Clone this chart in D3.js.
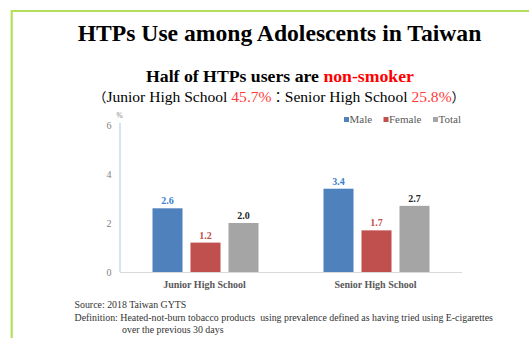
<!DOCTYPE html>
<html><head><meta charset="utf-8">
<script src="https://cdn.jsdelivr.net/npm/d3@7"></script>
<style>body{margin:0;background:#fff}svg{display:block}</style>
</head><body>
<script>
const categories = ["Junior High School", "Senior High School"];
const seriesNames = ["Male", "Female", "Total"];
const male = [2.6, 3.4];
const female = [1.2, 1.7];
const total = [2.0, 2.7];
const yTicks = [0, 2, 4, 6];

const series = [male, female, total];
const colors = ["#4f81bd", "#c0504d", "#a5a5a5"];
const labelColors = ["#3a7fd0", "#c0504d", "#262626"];
const SERIF = "'Liberation Serif', 'Times New Roman', Times, serif";
const CJK = "'Noto Sans CJK TC', 'Noto Sans CJK SC', sans-serif";

const W = 529, H = 338;
const svg = d3.select("body").append("svg").attr("width", W).attr("height", H)
  .attr("font-family", SERIF);

// fit a text element's font-size so that its width equals target
function fit(sel, base, target) {
  sel.attr("font-size", base);
  const w = sel.node().getComputedTextLength();
  const fs = base * target / w;
  sel.attr("font-size", fs);
  return fs;
}

// frame
svg.append("path").attr("d", "M11.7,338 V11 H529").attr("fill", "none")
  .attr("stroke", "#b3df5e").attr("stroke-width", 2.2);

// titles
const t1 = svg.append("text").attr("x", 279.5).attr("y", 41).attr("text-anchor", "middle")
  .attr("font-weight", "bold").attr("fill", "#000")
  .text("HTPs Use among Adolescents in Taiwan");
fit(t1, 23, 404);
const st = svg.append("text").attr("x", 280).attr("y", 82).attr("text-anchor", "middle")
  .attr("font-weight", "bold").attr("fill", "#000");
st.append("tspan").text("Half of HTPs users are ");
st.append("tspan").attr("fill", "#ff0000").text("non-smoker");
fit(st, 17.5, 268);
const t3 = svg.append("text").attr("x", 279).attr("y", 101.5).attr("text-anchor", "middle")
  .attr("fill", "#000");
t3.append("tspan").attr("font-family", CJK).attr("font-size", "0.85em").text("（");
t3.append("tspan").text("Junior High School ");
t3.append("tspan").attr("fill", "#ff3b3b").text("45.7%");
t3.append("tspan").attr("font-family", CJK).attr("font-size", "0.85em").text("：");
t3.append("tspan").text("Senior High School ");
t3.append("tspan").attr("fill", "#ff3b3b").text("25.8%");
t3.append("tspan").attr("font-family", CJK).attr("font-size", "0.85em").text("）");
fit(t3, 15, 372);

// scales
const x0 = d3.scaleBand().domain(categories).range([120, 462]).paddingInner(0).paddingOuter(0);
const x1 = d3.scaleBand().domain(seriesNames).range([0, 106]).paddingInner(0.21).paddingOuter(0);
const y = d3.scaleLinear().domain([0, 6]).range([272, 125]);

// y axis
svg.append("line").attr("x1", 120).attr("x2", 120).attr("y1", 123).attr("y2", y(0))
  .attr("stroke", "#c9daf0").attr("stroke-width", 1.5);
svg.append("g").selectAll("text").data(yTicks).join("text")
  .attr("x", 111.5).attr("y", d => y(d) + 3.5).attr("text-anchor", "end")
  .attr("font-size", 10).attr("fill", "#7f7f7f").text(d => d);
svg.append("text").attr("x", 116.5).attr("y", 118).attr("font-size", 7.5).attr("fill", "#7f7f7f").text("%");

// baseline
svg.append("line").attr("x1", 120).attr("x2", 462).attr("y1", 272.5).attr("y2", 272.5)
  .attr("stroke", "#d9d9d9").attr("stroke-width", 1);

// bars
const groups = svg.append("g").selectAll("g").data(categories).join("g")
  .attr("transform", d => `translate(${x0(d) + (x0.bandwidth() - 106) / 2},0)`);
groups.selectAll("rect").data((c, i) => seriesNames.map((s, k) => ({s, k, v: series[k][i]}))).join("rect")
  .attr("x", d => x1(d.s)).attr("width", x1.bandwidth())
  .attr("y", d => y(d.v)).attr("height", d => y(0) - y(d.v))
  .attr("fill", d => colors[d.k]);
groups.selectAll("text.val").data((c, i) => seriesNames.map((s, k) => ({s, k, v: series[k][i]}))).join("text")
  .attr("class", "val")
  .attr("x", d => x1(d.s) + x1.bandwidth() / 2).attr("y", d => y(d.v) - 4)
  .attr("text-anchor", "middle").attr("font-size", 10).attr("font-weight", "bold")
  .attr("fill", d => labelColors[d.k]).text(d => d.v.toFixed(1));

// category labels
svg.append("g").selectAll("text").data(categories).join("text")
  .attr("x", d => x0(d) + x0.bandwidth() / 2 - 1).attr("y", 287.5).attr("text-anchor", "middle")
  .attr("font-size", 10).attr("font-weight", "bold").attr("fill", "#595959").text(d => d);

// legend
const legX = [344, 383.5, 433];
const leg = svg.append("g").selectAll("g").data(seriesNames).join("g")
  .attr("transform", (d, i) => `translate(${legX[i]},119.5)`);
leg.append("rect").attr("x", 0).attr("y", -2.5).attr("width", 5).attr("height", 5)
  .attr("fill", (d, i) => colors[i]);
leg.append("text").attr("x", 5.5).attr("y", 3.8).attr("font-size", 11).attr("fill", "#595959").text(d => d);

// footer
const foot = [
  {x: 74.5, y: 308, t: "Source: 2018 Taiwan GYTS"},
  {x: 74.5, y: 320.5, t: "Definition: Heated-not-burn tobacco products\u00a0 using prevalence defined as having tried using E-cigarettes"},
  {x: 122, y: 333, t: "over the previous 30 days"}
];
const ft = svg.append("g").selectAll("text").data(foot).join("text")
  .attr("x", d => d.x).attr("y", d => d.y).attr("fill", "#333").text(d => d.t);
const fs = fit(d3.select(ft.nodes()[1]), 9.5, 419);
ft.attr("font-size", fs);
</script>
</body></html>
